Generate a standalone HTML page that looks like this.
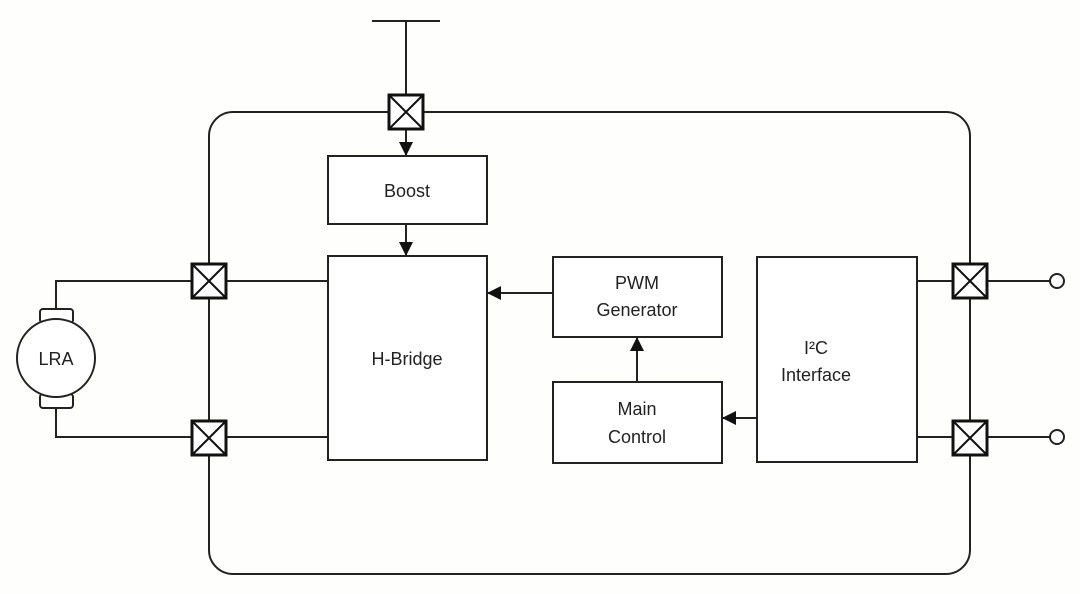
<!DOCTYPE html>
<html><head><meta charset="utf-8"><style>
html,body{margin:0;padding:0;background:#fefefc;}
svg{display:block}
text{font-family:"Liberation Sans",sans-serif;font-size:18px;fill:#222;text-anchor:middle}
</style></head><body>
<svg width="1080" height="594" viewBox="0 0 1080 594" xmlns="http://www.w3.org/2000/svg">
<defs>
<marker id="ar" markerWidth="14" markerHeight="14" refX="14" refY="7" orient="auto" markerUnits="userSpaceOnUse">
<path d="M0,0 L14,7 L0,14 z" fill="#111"/></marker>
<g id="x"><rect x="-17" y="-17" width="34" height="34" fill="#fff" stroke="#111" stroke-width="3"/><path d="M-16,-16 L16,16 M16,-16 L-16,16" stroke="#111" stroke-width="2"/></g>
</defs>
<g stroke="#222" stroke-width="2" fill="none">
<rect x="209" y="112" width="761" height="462" rx="24"/>
<path d="M372,21 H440 M406,21 V112"/>
<path d="M56,309 V281 H328 M56,397 V437 H328"/>
<path d="M917,281 H1050 M917,437 H1050"/>
<rect x="328" y="156" width="159" height="68" fill="#fff"/>
<rect x="328" y="256" width="159" height="204" fill="#fff"/>
<rect x="553" y="257" width="169" height="80" fill="#fff"/>
<rect x="553" y="382" width="169" height="81" fill="#fff"/>
<rect x="757" y="257" width="160" height="205" fill="#fff"/>
<path d="M406,128 V156" marker-end="url(#ar)"/>
<path d="M406,224 V256" marker-end="url(#ar)"/>
<path d="M553,293 H487" marker-end="url(#ar)"/>
<path d="M637,382 V337" marker-end="url(#ar)"/>
<path d="M757,418 H722" marker-end="url(#ar)"/>
<rect x="40" y="309" width="33" height="14" rx="3" fill="#fff"/>
<rect x="40" y="394" width="33" height="14" rx="3" fill="#fff"/>
<circle cx="56" cy="358" r="39" fill="#fff"/>
<circle cx="1057" cy="281" r="7" fill="#fff"/>
<circle cx="1057" cy="437" r="7" fill="#fff"/>
</g>
<use href="#x" x="406" y="112"/>
<use href="#x" x="209" y="281"/>
<use href="#x" x="209" y="438"/>
<use href="#x" x="970" y="281"/>
<use href="#x" x="970" y="438"/>
<text x="56" y="365">LRA</text>
<text x="407" y="197">Boost</text>
<text x="407" y="365">H-Bridge</text>
<text x="637" y="289">PWM</text>
<text x="637" y="316">Generator</text>
<text x="637" y="415">Main</text>
<text x="637" y="443">Control</text>
<text x="816" y="354">I²C</text>
<text x="816" y="381">Interface</text>
</svg>
</body></html>
